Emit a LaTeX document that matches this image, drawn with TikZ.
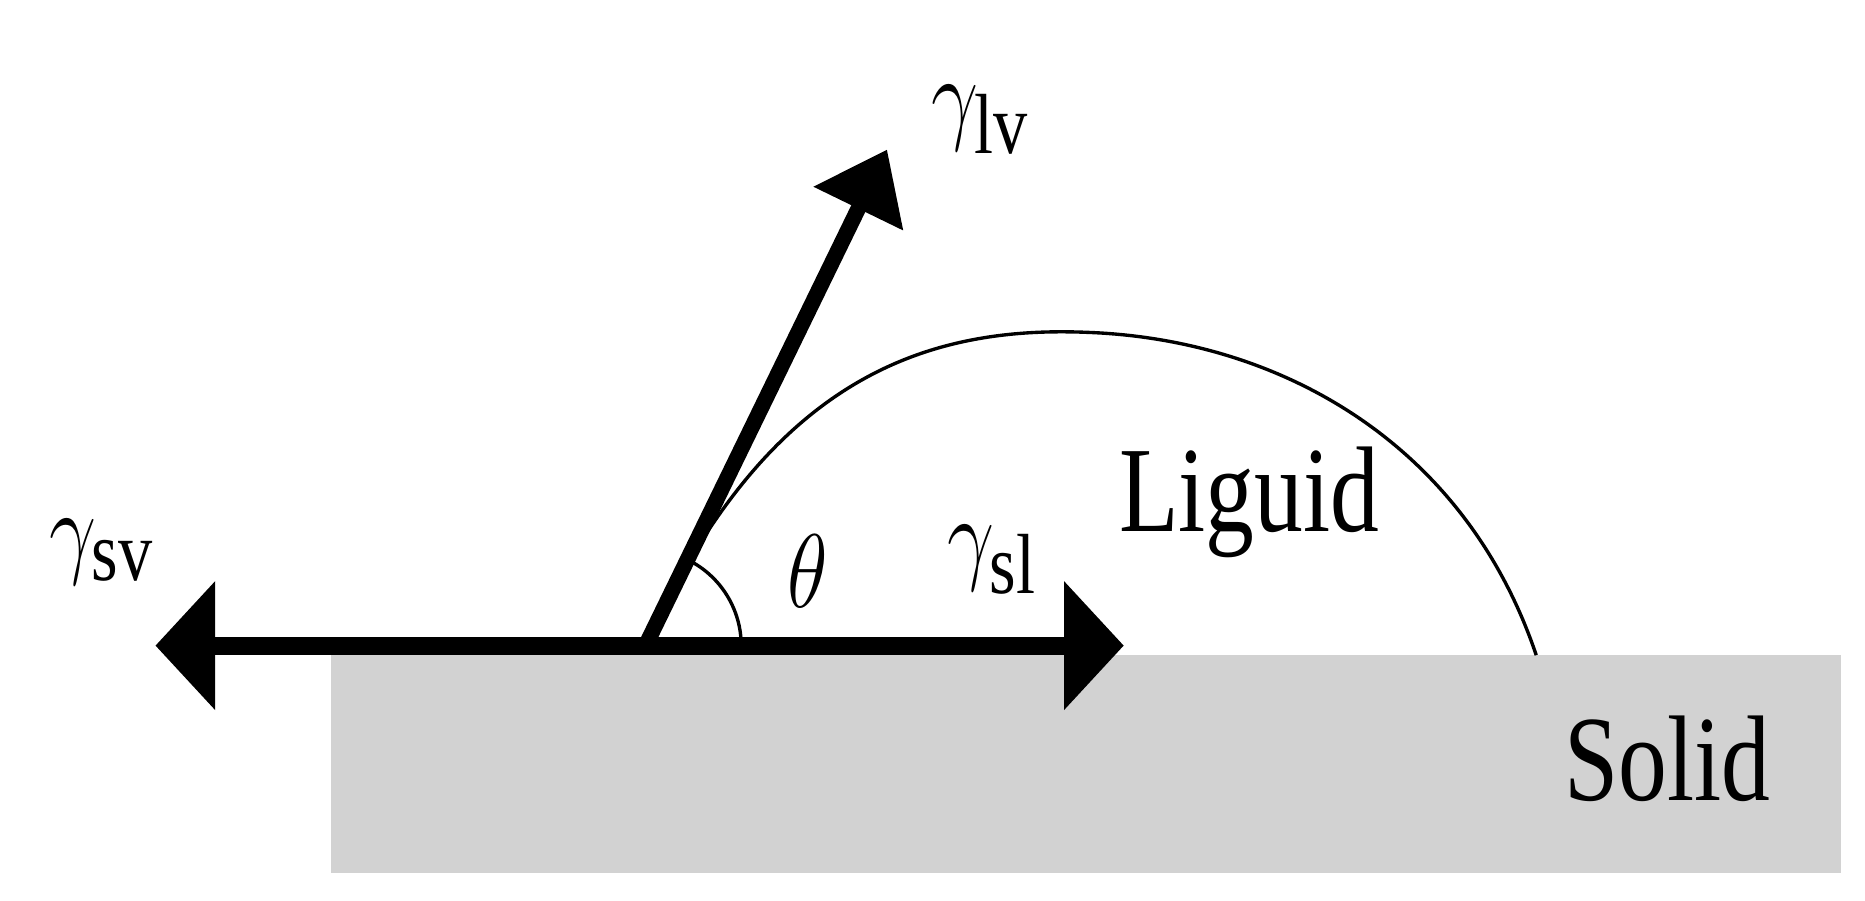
\documentclass[tikz,border=0pt]{standalone}
\usepackage{fontspec}
\setmainfont{Liberation Serif}
\usetikzlibrary{arrows.meta}
\begin{document}
\begin{tikzpicture}[x=0.01cm,y=-0.01cm,
  lab/.style={font=\fontsize{29}{34}\selectfont, inner sep=0, xscale=0.8}]
\useasboundingbox (0,0) rectangle (1560,753);
\fill[gray!35] (277,548) rectangle (1540,730);
\coordinate (O) at (540,540);
\coordinate (L) at (130,540);
\coordinate (R) at (940,540);
\coordinate (T) at (742,125);
\draw[line width=15*0.01cm, -{Triangle[width=105*0.01cm,length=50*0.01cm]}] (O) -- (L);
\draw[line width=15*0.01cm, -{Triangle[width=105*0.01cm,length=50*0.01cm]}] (O) -- (R);
\draw[line width=13*0.01cm, -{Triangle[width=80*0.01cm,length=55*0.01cm]}] (O) -- (T);
\draw[line width=0.8pt] (O) .. controls (640,320) and (770,272) .. (910,278)
  .. controls (1070,284) and (1225,370) .. (1285,548);
\draw[line width=0.8pt] ([shift={(0:80*0.01cm)}]O) arc[start angle=0,end angle=63.7,radius=80*0.01cm];
\node[lab] (glv) at (820,100) {$\gamma_{\mathrm{lv}}$};
\node[lab] (gsv) at (85,462) {$\gamma_{\mathrm{sv}}$};
\node[lab] (gsl) at (830,468) {$\gamma_{\mathrm{sl}}$};
\node[lab] (th) at (676,478) {$\theta$};
\node[lab] (liq) at (1045,420) {Liguid};
\node[lab] (sol) at (1395,635) {Solid};
\end{tikzpicture}
\end{document}
